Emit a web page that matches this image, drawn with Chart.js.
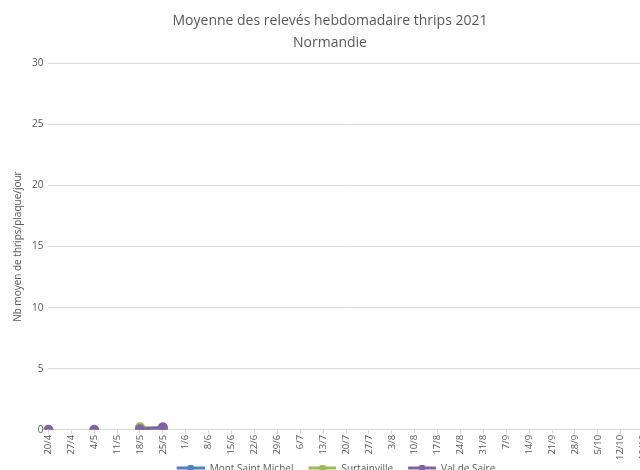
<!DOCTYPE html>
<html>
<head>
<meta charset="utf-8">
<script src="https://cdn.jsdelivr.net/npm/chart.js@4/dist/chart.umd.min.js"></script>
<style>
  html, body { margin: 0; padding: 0; background: #fff; overflow: hidden; }
  #wrap { position: relative; width: 656px; height: 484px; }
</style>
</head>
<body>
<div id="wrap"><canvas id="chart"></canvas></div>
<script>
// semaines (dates de relevé)
const semaines = ['20/4', '27/4', '4/5', '11/5', '18/5', '25/5', '1/6', '8/6', '15/6', '22/6',
    '29/6', '6/7', '13/7', '20/7', '27/7', '3/8', '10/8', '17/8', '24/8', '31/8',
    '7/9', '14/9', '21/9', '28/9', '5/10', '12/10', '19/10'];

// relevés par site (null = pas de relevé)
const montSaintMichel = [null, null, null, null, 0, 0];
const surtainville = [null, null, null, null, 0.2, 0.1];
const valDeSaire = [0, null, 0, null, 0.05, 0.2];

const gris = '#595959';
const police = "'Open Sans', 'Liberation Sans', sans-serif";

// petit symbole de légende : trait + rond (marge transparente à gauche)
function symbole(couleur) {
    const c = document.createElement('canvas');
    c.width = 40;
    c.height = 8;
    const ctx = c.getContext('2d');
    ctx.strokeStyle = couleur;
    ctx.lineWidth = 3;
    ctx.beginPath();
    ctx.moveTo(12, 3);
    ctx.lineTo(40, 3);
    ctx.stroke();
    ctx.fillStyle = couleur;
    ctx.beginPath();
    ctx.arc(26, 3, 3.5, 0, Math.PI * 2);
    ctx.fill();
    return c;
}

function serie(label, data, couleur, ordre) {
    return {
        label: label,
        data: data,
        order: ordre,
        borderColor: couleur,
        backgroundColor: couleur,
        borderWidth: 3,
        pointRadius: 3.5,
        pointHoverRadius: 3.5,
        pointBackgroundColor: couleur,
        pointBorderColor: couleur,
        spanGaps: false,
        tension: 0
    };
}

new Chart(document.getElementById('chart'), {
    type: 'line',
    data: {
        labels: semaines,
        datasets: [
            serie('Mont Saint Michel', montSaintMichel, '#4F81BD', 2),
            serie('Surtainville', surtainville, '#9BBB59', 1),
            serie('Val de Saire', valDeSaire, '#8064A2', 0)
        ]
    },
    options: {
        responsive: true,
        maintainAspectRatio: false,
        animation: false,
        layout: { padding: { left: 4, right: 0, top: 4, bottom: 0 } },
        plugins: {
            title: {
                display: true,
                text: ['Moyenne des relevés hebdomadaire thrips 2021', 'Normandie'],
                color: gris,
                font: { family: police, size: 14, weight: 'normal', lineHeight: 1.55 },
                padding: { top: 6, bottom: 10 }
            },
            legend: {
                position: 'bottom',
                labels: {
                    color: gris,
                    font: { family: police, size: 10 },
                    usePointStyle: true,
                    pointStyleWidth: 40,
                    padding: 3,
                    sort: (a, b) => a.datasetIndex - b.datasetIndex,
                    generateLabels: function(chart) {
                        const items = Chart.defaults.plugins.legend.labels.generateLabels(chart);
                        items.forEach(item => {
                            const ds = chart.data.datasets[item.datasetIndex];
                            item.pointStyle = symbole(ds.borderColor);
                        });
                        return items;
                    }
                }
            },
            tooltip: { enabled: false }
        },
        scales: {
            x: {
                offset: false,
                grid: { display: true, drawOnChartArea: false, drawTicks: true, tickLength: 4, color: '#d9d9d9' },
                border: { color: '#d9d9d9' },
                ticks: {
                    color: gris,
                    font: { family: police, size: 9.5 },
                    minRotation: 90,
                    maxRotation: 90,
                    autoSkip: false,
                    padding: 1
                }
            },
            y: {
                min: 0,
                max: 30,
                ticks: {
                    stepSize: 5,
                    color: gris,
                    font: { family: police, size: 10 },
                    padding: 5
                },
                grid: { color: '#d9d9d9', drawTicks: false },
                border: { display: false },
                title: {
                    display: true,
                    text: 'Nb moyen de thrips/plaque/jour',
                    color: gris,
                    font: { family: police, size: 10 },
                    padding: { top: 8, bottom: 3 }
                }
            }
        }
    }
});
</script>
</body>
</html>
